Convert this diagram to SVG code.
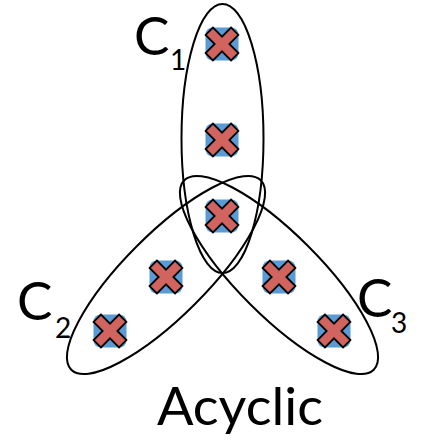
<svg xmlns="http://www.w3.org/2000/svg" xmlns:xlink="http://www.w3.org/1999/xlink" width="422" height="441" viewBox="0 0 422 441">
<style>
.set{fill:none;stroke:#000;stroke-width:2}
.lbl{font-family:Lato,"Open Sans",sans-serif;fill:#000}
.big{font-size:53px}
.sub{font-size:28px}
</style>
<defs>
<g id="mk">
<rect x="-16.5" y="-16.5" width="33" height="33" rx="7" fill="#5B9BD5"/>
<polygon points="16.4,-9.05 7.35,0 16.4,9.05 9.05,16.4 0,7.35 -9.05,16.4 -16.4,9.05 -7.35,0 -16.4,-9.05 -9.05,-16.4 0,-7.35 9.05,-16.4" fill="#D1645F" stroke="#000" stroke-width="1.8" stroke-linejoin="miter"/>
</g>
</defs>
<rect width="422" height="441" fill="#fff"/>
<g id="sets">
<ellipse id="C1-set" class="set" cx="222.5" cy="138.5" rx="41" ry="134.5"/>
<ellipse id="C2-set" class="set" cx="166" cy="275" rx="134" ry="41" transform="rotate(-45 166 275)"/>
<ellipse id="C3-set" class="set" cx="279" cy="275" rx="134" ry="41" transform="rotate(45 279 275)"/>
</g>
<g id="n1"><use xlink:href="#mk" x="222" y="44"/></g>
<g id="n2"><use xlink:href="#mk" x="222" y="140"/></g>
<g id="n3"><use xlink:href="#mk" x="222" y="216"/></g>
<g id="n4"><use xlink:href="#mk" x="166" y="277"/></g>
<g id="n5"><use xlink:href="#mk" x="110" y="331"/></g>
<g id="n6"><use xlink:href="#mk" x="279" y="277"/></g>
<g id="n7"><use xlink:href="#mk" x="334" y="331"/></g>
<g id="label-C1"><text class="lbl big" x="134" y="55">C</text><text class="lbl sub" x="170" y="70">1</text></g>
<g id="label-C2"><text class="lbl big" x="17" y="320">C</text><text class="lbl sub" x="55" y="338">2</text></g>
<g id="label-C3"><text class="lbl big" x="357" y="317">C</text><text class="lbl sub" x="391" y="333">3</text></g>
<g id="title"><text class="lbl" x="157" y="425" font-size="52" textLength="166" lengthAdjust="spacingAndGlyphs">Acyclic</text></g>
</svg>
